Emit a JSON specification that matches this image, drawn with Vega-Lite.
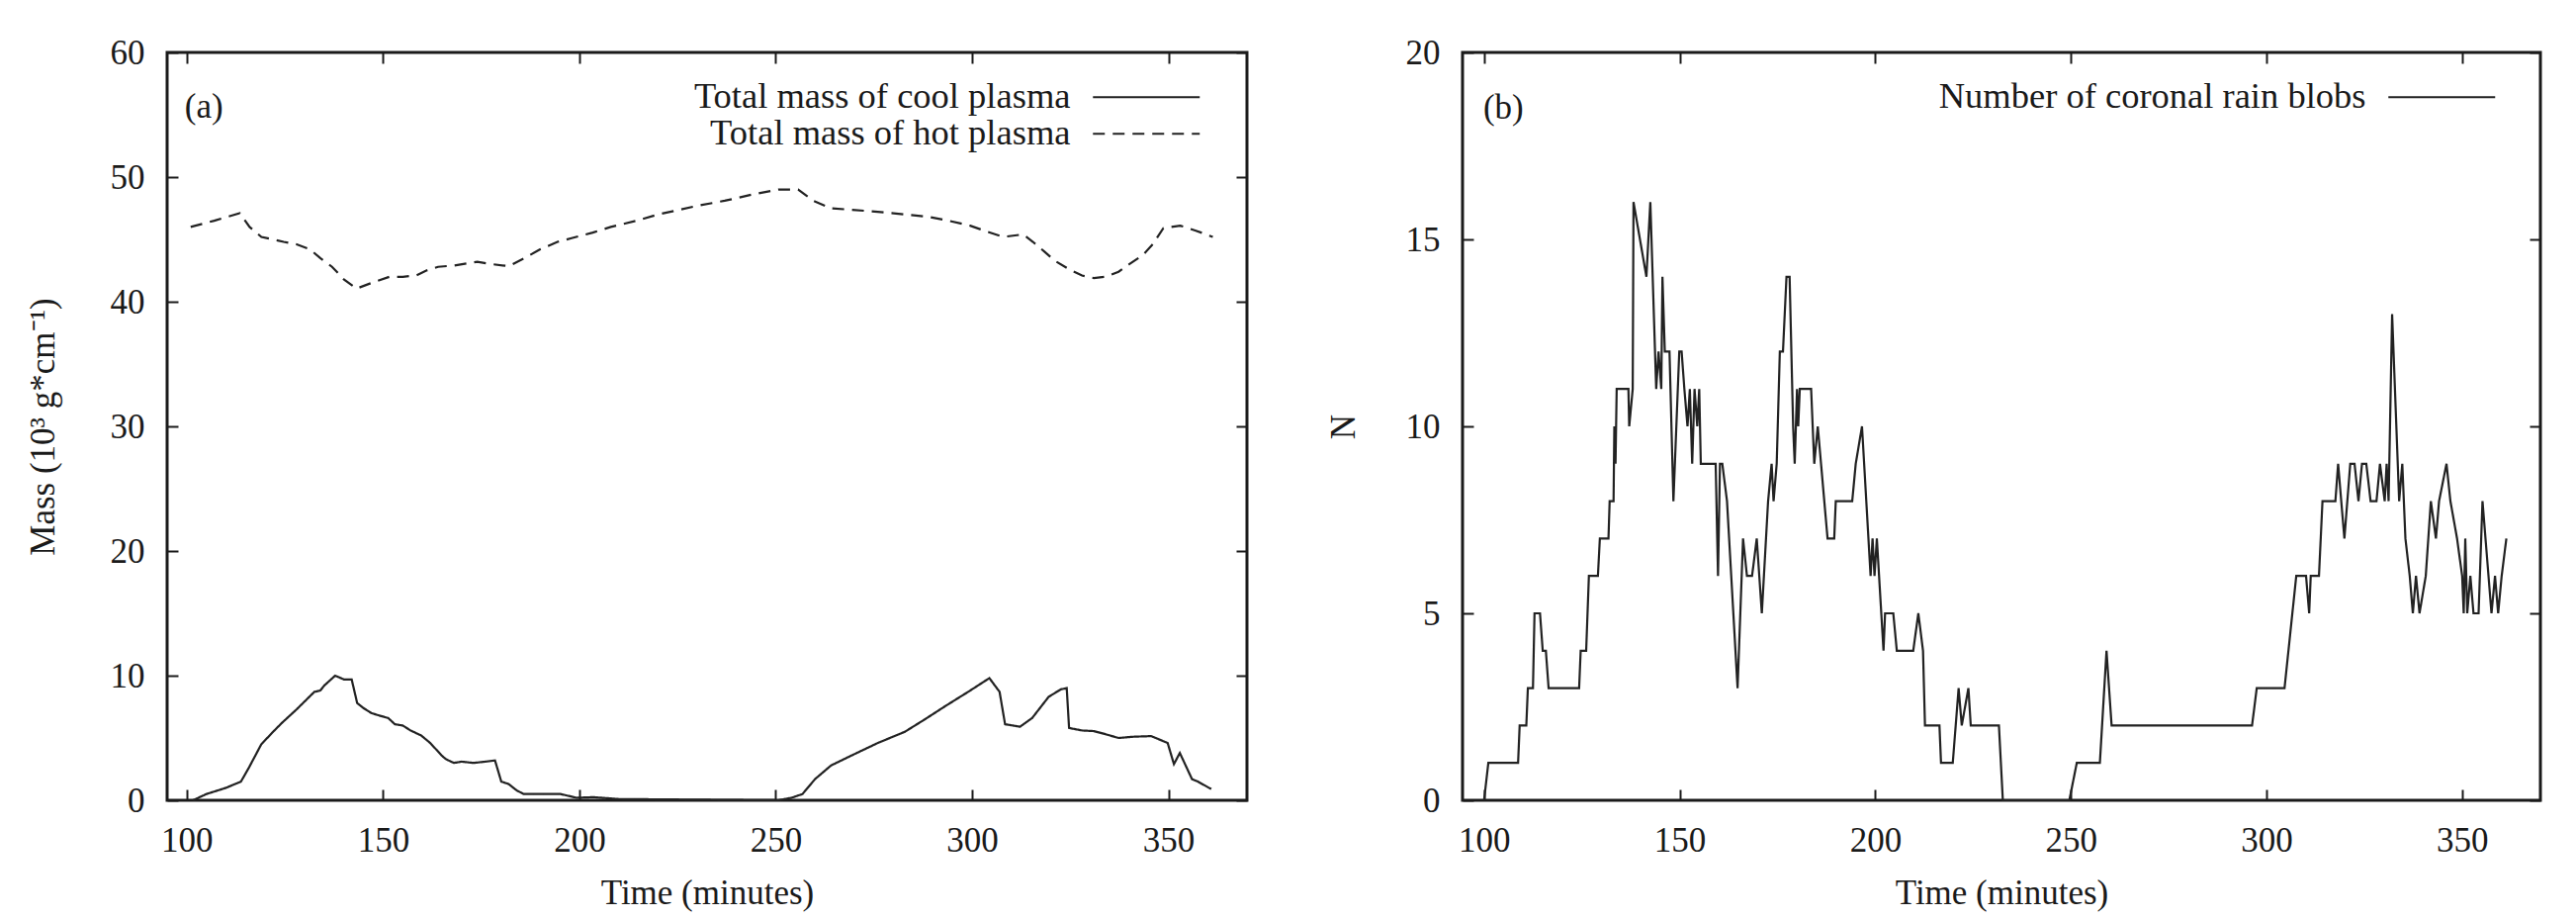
{
  "$schema": "https://vega.github.io/schema/vega-lite/v6.json",
  "background": "white",
  "padding": {"left": 24, "top": 34, "right": 0, "bottom": 0},
  "autosize": {"type": "pad"},
  "spacing": 75,
  "resolve": {"scale": {"strokeDash": "independent"}, "legend": {"strokeDash": "independent"}},
  "config": {
    "font": "Liberation Serif",
    "view": {"stroke": "#1a1a1a", "strokeWidth": 3},
    "axis": {
      "domain": false,
      "grid": false,
      "tickColor": "#1a1a1a",
      "tickWidth": 2,
      "tickSize": -11,
      "labelFont": "Liberation Serif",
      "labelFontSize": 35,
      "labelColor": "#1a1a1a",
      "labelPadding": 34,
      "titleFont": "Liberation Serif",
      "titleFontSize": 35,
      "titleFontWeight": "normal",
      "titleColor": "#1a1a1a"
    },
    "legend": {
      "orient": "none",
      "title": null,
      "padding": 0,
      "symbolType": "M-9,0H9",
      "symbolSize": 144,
      "symbolStrokeWidth": 2,
      "symbolStrokeColor": "#222222",
      "symbolFillColor": "transparent",
      "labelAlign": "right",
      "labelOffset": -95,
      "labelLimit": 2000,
      "labelFont": "Liberation Serif",
      "labelFontSize": 36.5,
      "labelColor": "#1a1a1a",
      "rowPadding": 0
    }
  },
  "hconcat": [
    {
      "width": 1092,
      "height": 756,
      "data": {
        "values": [
          {"t": 101.6, "v": 0, "series": "Total mass of cool plasma"},
          {"t": 105, "v": 0.5, "series": "Total mass of cool plasma"},
          {"t": 110, "v": 1.0, "series": "Total mass of cool plasma"},
          {"t": 113.8, "v": 1.5, "series": "Total mass of cool plasma"},
          {"t": 115.8, "v": 2.6, "series": "Total mass of cool plasma"},
          {"t": 119, "v": 4.5, "series": "Total mass of cool plasma"},
          {"t": 122, "v": 5.5, "series": "Total mass of cool plasma"},
          {"t": 124.2, "v": 6.2, "series": "Total mass of cool plasma"},
          {"t": 128, "v": 7.3, "series": "Total mass of cool plasma"},
          {"t": 132.5, "v": 8.7, "series": "Total mass of cool plasma"},
          {"t": 134, "v": 8.8, "series": "Total mass of cool plasma"},
          {"t": 135, "v": 9.2, "series": "Total mass of cool plasma"},
          {"t": 137.8, "v": 10.0, "series": "Total mass of cool plasma"},
          {"t": 140, "v": 9.7, "series": "Total mass of cool plasma"},
          {"t": 142, "v": 9.7, "series": "Total mass of cool plasma"},
          {"t": 143.4, "v": 7.8, "series": "Total mass of cool plasma"},
          {"t": 145, "v": 7.4, "series": "Total mass of cool plasma"},
          {"t": 147, "v": 7.0, "series": "Total mass of cool plasma"},
          {"t": 149, "v": 6.8, "series": "Total mass of cool plasma"},
          {"t": 151.3, "v": 6.6, "series": "Total mass of cool plasma"},
          {"t": 153, "v": 6.1, "series": "Total mass of cool plasma"},
          {"t": 155, "v": 6.0, "series": "Total mass of cool plasma"},
          {"t": 157, "v": 5.6, "series": "Total mass of cool plasma"},
          {"t": 159.7, "v": 5.2, "series": "Total mass of cool plasma"},
          {"t": 162, "v": 4.6, "series": "Total mass of cool plasma"},
          {"t": 164.9, "v": 3.6, "series": "Total mass of cool plasma"},
          {"t": 166, "v": 3.3, "series": "Total mass of cool plasma"},
          {"t": 168, "v": 3.0, "series": "Total mass of cool plasma"},
          {"t": 170, "v": 3.1, "series": "Total mass of cool plasma"},
          {"t": 173, "v": 3.0, "series": "Total mass of cool plasma"},
          {"t": 176, "v": 3.1, "series": "Total mass of cool plasma"},
          {"t": 178.5, "v": 3.2, "series": "Total mass of cool plasma"},
          {"t": 180.1, "v": 1.5, "series": "Total mass of cool plasma"},
          {"t": 182, "v": 1.3, "series": "Total mass of cool plasma"},
          {"t": 184, "v": 0.8, "series": "Total mass of cool plasma"},
          {"t": 185.8, "v": 0.5, "series": "Total mass of cool plasma"},
          {"t": 190, "v": 0.5, "series": "Total mass of cool plasma"},
          {"t": 195.2, "v": 0.5, "series": "Total mass of cool plasma"},
          {"t": 199.3, "v": 0.2, "series": "Total mass of cool plasma"},
          {"t": 203.5, "v": 0.25, "series": "Total mass of cool plasma"},
          {"t": 210, "v": 0.1, "series": "Total mass of cool plasma"},
          {"t": 230, "v": 0.05, "series": "Total mass of cool plasma"},
          {"t": 250.6, "v": 0, "series": "Total mass of cool plasma"},
          {"t": 254, "v": 0.2, "series": "Total mass of cool plasma"},
          {"t": 256.8, "v": 0.5, "series": "Total mass of cool plasma"},
          {"t": 260, "v": 1.7, "series": "Total mass of cool plasma"},
          {"t": 264.1, "v": 2.8, "series": "Total mass of cool plasma"},
          {"t": 270, "v": 3.7, "series": "Total mass of cool plasma"},
          {"t": 276, "v": 4.6, "series": "Total mass of cool plasma"},
          {"t": 282.9, "v": 5.5, "series": "Total mass of cool plasma"},
          {"t": 288, "v": 6.5, "series": "Total mass of cool plasma"},
          {"t": 293.4, "v": 7.6, "series": "Total mass of cool plasma"},
          {"t": 299, "v": 8.7, "series": "Total mass of cool plasma"},
          {"t": 304.4, "v": 9.8, "series": "Total mass of cool plasma"},
          {"t": 307, "v": 8.7, "series": "Total mass of cool plasma"},
          {"t": 308.4, "v": 6.1, "series": "Total mass of cool plasma"},
          {"t": 312.2, "v": 5.9, "series": "Total mass of cool plasma"},
          {"t": 315.3, "v": 6.6, "series": "Total mass of cool plasma"},
          {"t": 319.5, "v": 8.3, "series": "Total mass of cool plasma"},
          {"t": 322.6, "v": 8.9, "series": "Total mass of cool plasma"},
          {"t": 324.1, "v": 9.0, "series": "Total mass of cool plasma"},
          {"t": 324.7, "v": 5.8, "series": "Total mass of cool plasma"},
          {"t": 328, "v": 5.6, "series": "Total mass of cool plasma"},
          {"t": 331, "v": 5.55, "series": "Total mass of cool plasma"},
          {"t": 334, "v": 5.3, "series": "Total mass of cool plasma"},
          {"t": 337.3, "v": 5.0, "series": "Total mass of cool plasma"},
          {"t": 341, "v": 5.1, "series": "Total mass of cool plasma"},
          {"t": 345.6, "v": 5.15, "series": "Total mass of cool plasma"},
          {"t": 349.8, "v": 4.6, "series": "Total mass of cool plasma"},
          {"t": 351.4, "v": 2.9, "series": "Total mass of cool plasma"},
          {"t": 352.9, "v": 3.8, "series": "Total mass of cool plasma"},
          {"t": 356, "v": 1.7, "series": "Total mass of cool plasma"},
          {"t": 357.5, "v": 1.5, "series": "Total mass of cool plasma"},
          {"t": 359.2, "v": 1.2, "series": "Total mass of cool plasma"},
          {"t": 360.9, "v": 0.9, "series": "Total mass of cool plasma"},
          {"t": 101, "v": 46, "series": "Total mass of hot plasma"},
          {"t": 107, "v": 46.5, "series": "Total mass of hot plasma"},
          {"t": 113.5, "v": 47.1, "series": "Total mass of hot plasma"},
          {"t": 116, "v": 46, "series": "Total mass of hot plasma"},
          {"t": 119, "v": 45.2, "series": "Total mass of hot plasma"},
          {"t": 124.7, "v": 44.8, "series": "Total mass of hot plasma"},
          {"t": 128, "v": 44.6, "series": "Total mass of hot plasma"},
          {"t": 131.4, "v": 44.2, "series": "Total mass of hot plasma"},
          {"t": 134, "v": 43.5, "series": "Total mass of hot plasma"},
          {"t": 137, "v": 42.8, "series": "Total mass of hot plasma"},
          {"t": 140, "v": 41.8, "series": "Total mass of hot plasma"},
          {"t": 143.2, "v": 41.05, "series": "Total mass of hot plasma"},
          {"t": 147, "v": 41.5, "series": "Total mass of hot plasma"},
          {"t": 151.6, "v": 42, "series": "Total mass of hot plasma"},
          {"t": 155, "v": 42, "series": "Total mass of hot plasma"},
          {"t": 158.4, "v": 42.1, "series": "Total mass of hot plasma"},
          {"t": 161, "v": 42.5, "series": "Total mass of hot plasma"},
          {"t": 164, "v": 42.8, "series": "Total mass of hot plasma"},
          {"t": 168, "v": 42.9, "series": "Total mass of hot plasma"},
          {"t": 174, "v": 43.2, "series": "Total mass of hot plasma"},
          {"t": 178, "v": 43, "series": "Total mass of hot plasma"},
          {"t": 182, "v": 42.85, "series": "Total mass of hot plasma"},
          {"t": 186, "v": 43.5, "series": "Total mass of hot plasma"},
          {"t": 190, "v": 44.2, "series": "Total mass of hot plasma"},
          {"t": 194.4, "v": 44.8, "series": "Total mass of hot plasma"},
          {"t": 198, "v": 45.1, "series": "Total mass of hot plasma"},
          {"t": 203.4, "v": 45.55, "series": "Total mass of hot plasma"},
          {"t": 208, "v": 46, "series": "Total mass of hot plasma"},
          {"t": 214.6, "v": 46.5, "series": "Total mass of hot plasma"},
          {"t": 220, "v": 47, "series": "Total mass of hot plasma"},
          {"t": 225.8, "v": 47.4, "series": "Total mass of hot plasma"},
          {"t": 230, "v": 47.7, "series": "Total mass of hot plasma"},
          {"t": 237, "v": 48.1, "series": "Total mass of hot plasma"},
          {"t": 244, "v": 48.6, "series": "Total mass of hot plasma"},
          {"t": 250.7, "v": 49, "series": "Total mass of hot plasma"},
          {"t": 255.7, "v": 49, "series": "Total mass of hot plasma"},
          {"t": 259.6, "v": 48.1, "series": "Total mass of hot plasma"},
          {"t": 264, "v": 47.5, "series": "Total mass of hot plasma"},
          {"t": 272.4, "v": 47.3, "series": "Total mass of hot plasma"},
          {"t": 280, "v": 47.1, "series": "Total mass of hot plasma"},
          {"t": 289, "v": 46.8, "series": "Total mass of hot plasma"},
          {"t": 294, "v": 46.5, "series": "Total mass of hot plasma"},
          {"t": 299.5, "v": 46.1, "series": "Total mass of hot plasma"},
          {"t": 304, "v": 45.6, "series": "Total mass of hot plasma"},
          {"t": 308, "v": 45.2, "series": "Total mass of hot plasma"},
          {"t": 313, "v": 45.4, "series": "Total mass of hot plasma"},
          {"t": 315.5, "v": 44.8, "series": "Total mass of hot plasma"},
          {"t": 318.5, "v": 44, "series": "Total mass of hot plasma"},
          {"t": 321, "v": 43.3, "series": "Total mass of hot plasma"},
          {"t": 324.7, "v": 42.6, "series": "Total mass of hot plasma"},
          {"t": 328, "v": 42.1, "series": "Total mass of hot plasma"},
          {"t": 331, "v": 41.9, "series": "Total mass of hot plasma"},
          {"t": 334, "v": 42.0, "series": "Total mass of hot plasma"},
          {"t": 337.3, "v": 42.4, "series": "Total mass of hot plasma"},
          {"t": 340, "v": 43, "series": "Total mass of hot plasma"},
          {"t": 343.5, "v": 43.75, "series": "Total mass of hot plasma"},
          {"t": 346, "v": 44.6, "series": "Total mass of hot plasma"},
          {"t": 348.7, "v": 45.9, "series": "Total mass of hot plasma"},
          {"t": 353, "v": 46.1, "series": "Total mass of hot plasma"},
          {"t": 357, "v": 45.7, "series": "Total mass of hot plasma"},
          {"t": 361.3, "v": 45.2, "series": "Total mass of hot plasma"}
        ]
      },
      "layer": [
        {
          "mark": {"type": "line", "color": "#222222", "strokeWidth": 2.2},
          "encoding": {
            "x": {"field": "t", "type": "quantitative", "scale": {"domain": [95, 370], "nice": false, "zero": false},
                  "axis": {"orient": "bottom", "values": [100, 150, 200, 250, 300, 350], "title": "Time (minutes)", "titlePadding": 18}},
            "y": {"field": "v", "type": "quantitative", "scale": {"domain": [0, 60], "nice": false},
                  "axis": {"orient": "left", "values": [0, 10, 20, 30, 40, 50, 60], "title": "Mass (10³ g*cm⁻¹)", "titlePadding": 50}},
            "strokeDash": {"field": "series", "type": "nominal",
                  "scale": {"domain": ["Total mass of cool plasma", "Total mass of hot plasma"], "range": [[1, 0], [12, 8]]},
                  "legend": {"legendX": 972, "legendY": 27}}
          }
        },
        {
          "mark": {"type": "line", "opacity": 0},
          "encoding": {
            "x": {"field": "t", "type": "quantitative", "axis": {"orient": "top", "values": [100, 150, 200, 250, 300, 350], "labels": false, "title": null}},
            "y": {"field": "v", "type": "quantitative", "axis": {"orient": "right", "values": [0, 10, 20, 30, 40, 50, 60], "labels": false, "title": null}}
          }
        },
        {
          "data": {"values": [{"label": "(a)"}]},
          "mark": {"type": "text", "align": "left", "baseline": "middle", "font": "Liberation Serif", "fontSize": 35, "fontWeight": "normal", "color": "#1a1a1a"},
          "encoding": {
            "text": {"field": "label", "type": "nominal"},
            "x": {"datum": 99.5, "type": "quantitative", "axis": null},
            "y": {"datum": 55.63, "type": "quantitative", "axis": null}
          }
        }
      ],
      "resolve": {"axis": {"x": "independent", "y": "independent"}}
    },
    {
      "width": 1090,
      "height": 756,
      "data": {
        "values": [
          {"t": 100, "n": 0, "series": "Number of coronal rain blobs"},
          {"t": 101.1, "n": 1, "series": "Number of coronal rain blobs"},
          {"t": 108.7, "n": 1, "series": "Number of coronal rain blobs"},
          {"t": 109.1, "n": 2, "series": "Number of coronal rain blobs"},
          {"t": 110.8, "n": 2, "series": "Number of coronal rain blobs"},
          {"t": 111.2, "n": 3, "series": "Number of coronal rain blobs"},
          {"t": 112.5, "n": 3, "series": "Number of coronal rain blobs"},
          {"t": 112.9, "n": 5, "series": "Number of coronal rain blobs"},
          {"t": 114.3, "n": 5, "series": "Number of coronal rain blobs"},
          {"t": 115, "n": 4, "series": "Number of coronal rain blobs"},
          {"t": 115.8, "n": 4, "series": "Number of coronal rain blobs"},
          {"t": 116.5, "n": 3, "series": "Number of coronal rain blobs"},
          {"t": 124.3, "n": 3, "series": "Number of coronal rain blobs"},
          {"t": 124.7, "n": 4, "series": "Number of coronal rain blobs"},
          {"t": 126.1, "n": 4, "series": "Number of coronal rain blobs"},
          {"t": 126.8, "n": 6, "series": "Number of coronal rain blobs"},
          {"t": 129.1, "n": 6, "series": "Number of coronal rain blobs"},
          {"t": 129.6, "n": 7, "series": "Number of coronal rain blobs"},
          {"t": 131.8, "n": 7, "series": "Number of coronal rain blobs"},
          {"t": 132.1, "n": 8, "series": "Number of coronal rain blobs"},
          {"t": 133.1, "n": 8, "series": "Number of coronal rain blobs"},
          {"t": 133.3, "n": 10, "series": "Number of coronal rain blobs"},
          {"t": 133.6, "n": 9, "series": "Number of coronal rain blobs"},
          {"t": 133.9, "n": 11, "series": "Number of coronal rain blobs"},
          {"t": 136.9, "n": 11, "series": "Number of coronal rain blobs"},
          {"t": 137.1, "n": 10, "series": "Number of coronal rain blobs"},
          {"t": 138, "n": 11, "series": "Number of coronal rain blobs"},
          {"t": 138.2, "n": 16, "series": "Number of coronal rain blobs"},
          {"t": 141.5, "n": 14, "series": "Number of coronal rain blobs"},
          {"t": 142.5, "n": 16, "series": "Number of coronal rain blobs"},
          {"t": 144, "n": 11, "series": "Number of coronal rain blobs"},
          {"t": 144.6, "n": 12, "series": "Number of coronal rain blobs"},
          {"t": 145.3, "n": 11, "series": "Number of coronal rain blobs"},
          {"t": 145.6, "n": 14, "series": "Number of coronal rain blobs"},
          {"t": 146.2, "n": 12, "series": "Number of coronal rain blobs"},
          {"t": 147.4, "n": 12, "series": "Number of coronal rain blobs"},
          {"t": 148.4, "n": 8, "series": "Number of coronal rain blobs"},
          {"t": 149.9, "n": 12, "series": "Number of coronal rain blobs"},
          {"t": 150.5, "n": 12, "series": "Number of coronal rain blobs"},
          {"t": 151.2, "n": 11, "series": "Number of coronal rain blobs"},
          {"t": 152, "n": 10, "series": "Number of coronal rain blobs"},
          {"t": 152.6, "n": 11, "series": "Number of coronal rain blobs"},
          {"t": 153.2, "n": 9, "series": "Number of coronal rain blobs"},
          {"t": 153.8, "n": 11, "series": "Number of coronal rain blobs"},
          {"t": 154.5, "n": 10, "series": "Number of coronal rain blobs"},
          {"t": 155, "n": 11, "series": "Number of coronal rain blobs"},
          {"t": 155.4, "n": 9, "series": "Number of coronal rain blobs"},
          {"t": 159.2, "n": 9, "series": "Number of coronal rain blobs"},
          {"t": 159.8, "n": 6, "series": "Number of coronal rain blobs"},
          {"t": 160.3, "n": 9, "series": "Number of coronal rain blobs"},
          {"t": 160.9, "n": 9, "series": "Number of coronal rain blobs"},
          {"t": 162.1, "n": 8, "series": "Number of coronal rain blobs"},
          {"t": 164.8, "n": 3, "series": "Number of coronal rain blobs"},
          {"t": 166.2, "n": 7, "series": "Number of coronal rain blobs"},
          {"t": 167.2, "n": 6, "series": "Number of coronal rain blobs"},
          {"t": 168.5, "n": 6, "series": "Number of coronal rain blobs"},
          {"t": 169.7, "n": 7, "series": "Number of coronal rain blobs"},
          {"t": 171, "n": 5, "series": "Number of coronal rain blobs"},
          {"t": 172.6, "n": 8, "series": "Number of coronal rain blobs"},
          {"t": 173.5, "n": 9, "series": "Number of coronal rain blobs"},
          {"t": 174, "n": 8, "series": "Number of coronal rain blobs"},
          {"t": 174.8, "n": 9, "series": "Number of coronal rain blobs"},
          {"t": 175.6, "n": 12, "series": "Number of coronal rain blobs"},
          {"t": 176.4, "n": 12, "series": "Number of coronal rain blobs"},
          {"t": 177.3, "n": 14, "series": "Number of coronal rain blobs"},
          {"t": 178.1, "n": 14, "series": "Number of coronal rain blobs"},
          {"t": 179, "n": 10, "series": "Number of coronal rain blobs"},
          {"t": 179.4, "n": 9, "series": "Number of coronal rain blobs"},
          {"t": 180, "n": 11, "series": "Number of coronal rain blobs"},
          {"t": 180.3, "n": 10, "series": "Number of coronal rain blobs"},
          {"t": 180.7, "n": 11, "series": "Number of coronal rain blobs"},
          {"t": 183.6, "n": 11, "series": "Number of coronal rain blobs"},
          {"t": 184.4, "n": 9, "series": "Number of coronal rain blobs"},
          {"t": 185.3, "n": 10, "series": "Number of coronal rain blobs"},
          {"t": 187.8, "n": 7, "series": "Number of coronal rain blobs"},
          {"t": 189.5, "n": 7, "series": "Number of coronal rain blobs"},
          {"t": 189.9, "n": 8, "series": "Number of coronal rain blobs"},
          {"t": 194.1, "n": 8, "series": "Number of coronal rain blobs"},
          {"t": 195, "n": 9, "series": "Number of coronal rain blobs"},
          {"t": 196.6, "n": 10, "series": "Number of coronal rain blobs"},
          {"t": 198.8, "n": 6, "series": "Number of coronal rain blobs"},
          {"t": 199.3, "n": 7, "series": "Number of coronal rain blobs"},
          {"t": 199.8, "n": 6, "series": "Number of coronal rain blobs"},
          {"t": 200.4, "n": 7, "series": "Number of coronal rain blobs"},
          {"t": 202.1, "n": 4, "series": "Number of coronal rain blobs"},
          {"t": 202.5, "n": 5, "series": "Number of coronal rain blobs"},
          {"t": 204.6, "n": 5, "series": "Number of coronal rain blobs"},
          {"t": 205.5, "n": 4, "series": "Number of coronal rain blobs"},
          {"t": 209.7, "n": 4, "series": "Number of coronal rain blobs"},
          {"t": 211, "n": 5, "series": "Number of coronal rain blobs"},
          {"t": 212.2, "n": 4, "series": "Number of coronal rain blobs"},
          {"t": 212.7, "n": 2, "series": "Number of coronal rain blobs"},
          {"t": 216.4, "n": 2, "series": "Number of coronal rain blobs"},
          {"t": 216.8, "n": 1, "series": "Number of coronal rain blobs"},
          {"t": 219.8, "n": 1, "series": "Number of coronal rain blobs"},
          {"t": 221.3, "n": 3, "series": "Number of coronal rain blobs"},
          {"t": 222.1, "n": 2, "series": "Number of coronal rain blobs"},
          {"t": 223.8, "n": 3, "series": "Number of coronal rain blobs"},
          {"t": 224.4, "n": 2, "series": "Number of coronal rain blobs"},
          {"t": 231.6, "n": 2, "series": "Number of coronal rain blobs"},
          {"t": 232.6, "n": 0, "series": "Number of coronal rain blobs"},
          {"t": 249.6, "n": 0, "series": "Number of coronal rain blobs"},
          {"t": 251.5, "n": 1, "series": "Number of coronal rain blobs"},
          {"t": 257.4, "n": 1, "series": "Number of coronal rain blobs"},
          {"t": 259.1, "n": 4, "series": "Number of coronal rain blobs"},
          {"t": 260.4, "n": 2, "series": "Number of coronal rain blobs"},
          {"t": 296.3, "n": 2, "series": "Number of coronal rain blobs"},
          {"t": 297.5, "n": 3, "series": "Number of coronal rain blobs"},
          {"t": 304.6, "n": 3, "series": "Number of coronal rain blobs"},
          {"t": 307.6, "n": 6, "series": "Number of coronal rain blobs"},
          {"t": 310.1, "n": 6, "series": "Number of coronal rain blobs"},
          {"t": 310.9, "n": 5, "series": "Number of coronal rain blobs"},
          {"t": 311.3, "n": 6, "series": "Number of coronal rain blobs"},
          {"t": 313.4, "n": 6, "series": "Number of coronal rain blobs"},
          {"t": 314.3, "n": 8, "series": "Number of coronal rain blobs"},
          {"t": 317.6, "n": 8, "series": "Number of coronal rain blobs"},
          {"t": 318.3, "n": 9, "series": "Number of coronal rain blobs"},
          {"t": 319.9, "n": 7, "series": "Number of coronal rain blobs"},
          {"t": 321.4, "n": 9, "series": "Number of coronal rain blobs"},
          {"t": 322.5, "n": 9, "series": "Number of coronal rain blobs"},
          {"t": 323.5, "n": 8, "series": "Number of coronal rain blobs"},
          {"t": 324.4, "n": 9, "series": "Number of coronal rain blobs"},
          {"t": 325.5, "n": 9, "series": "Number of coronal rain blobs"},
          {"t": 326.6, "n": 8, "series": "Number of coronal rain blobs"},
          {"t": 328.1, "n": 8, "series": "Number of coronal rain blobs"},
          {"t": 329, "n": 9, "series": "Number of coronal rain blobs"},
          {"t": 330.2, "n": 8, "series": "Number of coronal rain blobs"},
          {"t": 330.7, "n": 9, "series": "Number of coronal rain blobs"},
          {"t": 331.2, "n": 8, "series": "Number of coronal rain blobs"},
          {"t": 332.1, "n": 13, "series": "Number of coronal rain blobs"},
          {"t": 333.9, "n": 8, "series": "Number of coronal rain blobs"},
          {"t": 334.7, "n": 9, "series": "Number of coronal rain blobs"},
          {"t": 335.5, "n": 7, "series": "Number of coronal rain blobs"},
          {"t": 336.6, "n": 6, "series": "Number of coronal rain blobs"},
          {"t": 337.4, "n": 5, "series": "Number of coronal rain blobs"},
          {"t": 338.2, "n": 6, "series": "Number of coronal rain blobs"},
          {"t": 339.1, "n": 5, "series": "Number of coronal rain blobs"},
          {"t": 340.7, "n": 6, "series": "Number of coronal rain blobs"},
          {"t": 342, "n": 8, "series": "Number of coronal rain blobs"},
          {"t": 343.3, "n": 7, "series": "Number of coronal rain blobs"},
          {"t": 344.1, "n": 8, "series": "Number of coronal rain blobs"},
          {"t": 346, "n": 9, "series": "Number of coronal rain blobs"},
          {"t": 347, "n": 8, "series": "Number of coronal rain blobs"},
          {"t": 348.7, "n": 7, "series": "Number of coronal rain blobs"},
          {"t": 350, "n": 6, "series": "Number of coronal rain blobs"},
          {"t": 350.4, "n": 5, "series": "Number of coronal rain blobs"},
          {"t": 350.8, "n": 7, "series": "Number of coronal rain blobs"},
          {"t": 351.3, "n": 5, "series": "Number of coronal rain blobs"},
          {"t": 352.1, "n": 6, "series": "Number of coronal rain blobs"},
          {"t": 352.9, "n": 5, "series": "Number of coronal rain blobs"},
          {"t": 354.2, "n": 5, "series": "Number of coronal rain blobs"},
          {"t": 355.2, "n": 8, "series": "Number of coronal rain blobs"},
          {"t": 357.5, "n": 5, "series": "Number of coronal rain blobs"},
          {"t": 358.4, "n": 6, "series": "Number of coronal rain blobs"},
          {"t": 359.2, "n": 5, "series": "Number of coronal rain blobs"},
          {"t": 360.1, "n": 6, "series": "Number of coronal rain blobs"},
          {"t": 361.3, "n": 7, "series": "Number of coronal rain blobs"}
        ]
      },
      "layer": [
        {
          "mark": {"type": "line", "color": "#222222", "strokeWidth": 2.2},
          "encoding": {
            "x": {"field": "t", "type": "quantitative", "scale": {"domain": [94.5, 370], "nice": false, "zero": false},
                  "axis": {"orient": "bottom", "values": [100, 150, 200, 250, 300, 350], "title": "Time (minutes)", "titlePadding": 18}},
            "y": {"field": "n", "type": "quantitative", "scale": {"domain": [0, 20], "nice": false},
                  "axis": {"orient": "left", "values": [0, 5, 10, 15, 20], "title": "N", "titlePadding": 45}},
            "strokeDash": {"field": "series", "type": "nominal",
                  "scale": {"domain": ["Number of coronal rain blobs"], "range": [[1, 0]]},
                  "legend": {"legendX": 972, "legendY": 27}}
          }
        },
        {
          "mark": {"type": "line", "opacity": 0},
          "encoding": {
            "x": {"field": "t", "type": "quantitative", "axis": {"orient": "top", "values": [100, 150, 200, 250, 300, 350], "labels": false, "title": null}},
            "y": {"field": "n", "type": "quantitative", "axis": {"orient": "right", "values": [0, 5, 10, 15, 20], "labels": false, "title": null}}
          }
        },
        {
          "data": {"values": [{"label": "(b)"}]},
          "mark": {"type": "text", "align": "left", "baseline": "middle", "font": "Liberation Serif", "fontSize": 35, "fontWeight": "normal", "color": "#1a1a1a"},
          "encoding": {
            "text": {"field": "label", "type": "nominal"},
            "x": {"datum": 99.8, "type": "quantitative", "axis": null},
            "y": {"datum": 18.52, "type": "quantitative", "axis": null}
          }
        }
      ],
      "resolve": {"axis": {"x": "independent", "y": "independent"}}
    }
  ]
}
